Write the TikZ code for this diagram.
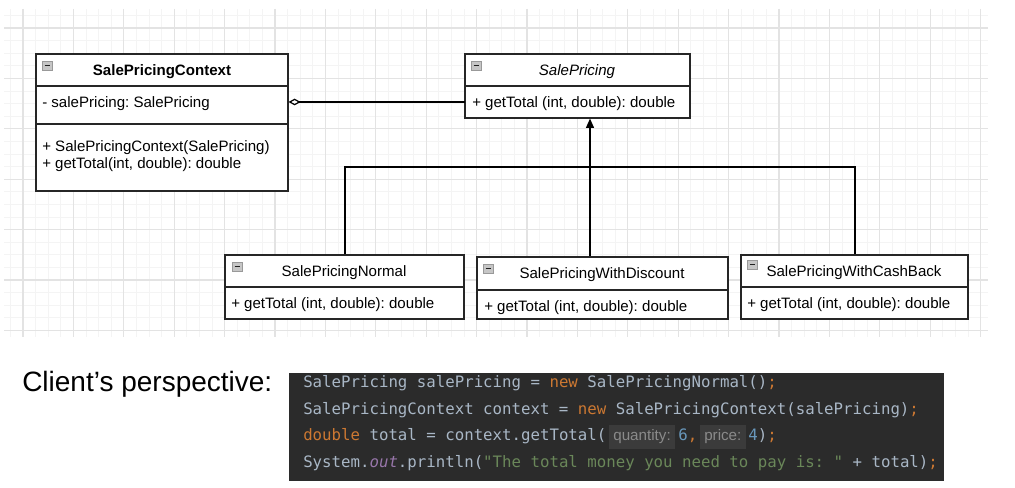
\documentclass[tikz,border=0pt]{standalone}
\usepackage{fontspec}
\setmainfont{Liberation Sans}
\newfontfamily\codefont{DejaVu Sans Mono}
\newfontfamily\hintfont{Liberation Sans}
\usetikzlibrary{arrows.meta,fit,calc}
\definecolor{codebg}{HTML}{2B2B2B}
\definecolor{cplain}{HTML}{A9B7C6}
\definecolor{ckw}{HTML}{CC7832}
\definecolor{cstr}{HTML}{6A8759}
\definecolor{cnum}{HTML}{6897BB}
\definecolor{cpurp}{HTML}{9876AA}
\definecolor{hintbg}{HTML}{3B3B3B}
\definecolor{hintfg}{HTML}{8A8A8A}
\definecolor{gridmajor}{HTML}{E3E3E3}
\definecolor{gridminor}{HTML}{F4F4F4}
\newcommand{\ckw}[1]{\textcolor{ckw}{#1}}
\newcommand{\cnm}[1]{\textcolor{cnum}{#1}}
\newcommand{\cst}[1]{\textcolor{cstr}{#1}}
\newcommand{\cpu}[1]{\textcolor{cpurp}{\itshape #1}}
\newcommand{\inlayhint}[1]{{\setlength{\fboxsep}{3.2pt}\colorbox{hintbg}{\hintfont\fontsize{11.4pt}{12pt}\selectfont\textcolor{hintfg}{\strut #1}}}}
\newcommand{\umlicon}[2]{%
  \draw[icon] (#1,#2) rectangle ++(10,9);
  \draw[gray!25!black, line width=0.8pt] ($(#1,#2)+(2.5,4.5)$) -- ++(5,0);}
\frenchspacing
\begin{document}
\begin{tikzpicture}[x=0.75pt,y=-0.75pt,
  cls/.style={draw=black!85, line width=0.9pt, inner sep=0pt},
  sep/.style={draw=black!85, line width=0.9pt},
  row/.style={inner sep=0pt},
  lbl/.style={font=\fontsize{11.3pt}{13pt}\selectfont, inner sep=0pt, anchor=west},
  ttl/.style={font=\fontsize{11.3pt}{13pt}\selectfont, inner sep=0pt},
  icon/.style={draw=gray!80, fill=gray!45, line width=0.4pt},
  conn/.style={draw=black, line width=0.9pt},
  codeline/.style={font=\codefont\fontsize{11.8pt}{14pt}\selectfont, text=cplain, inner sep=0pt, anchor=west},
  gmin/.style={draw=gridminor, line width=0.6pt},
  gmaj/.style={draw=gridmajor, line width=0.8pt}]
\useasboundingbox (0,0) rectangle (1015,488);
% grid
\foreach \i in {-1,...,76} { \draw[gmin] (23+\i*12.6,9) -- (23+\i*12.6,337); }
\foreach \j in {-1,...,24} { \draw[gmin] (4,28+\j*12.6) -- (988,28+\j*12.6); }
\foreach \i in {0,...,19} { \draw[gmaj] (23+\i*50.4,9) -- (23+\i*50.4,337); }
\foreach \j in {0,...,6} { \draw[gmaj] (4,28+\j*50.4) -- (988,28+\j*50.4); }

% SalePricingContext
\coordinate (ctxA) at (36,54); \coordinate (ctxB) at (288,191);
\node[cls, fit=(ctxA)(ctxB), fill=white] (ctx) {};
\draw[sep] (ctx.west |- 0,86) -- (ctx.east |- 0,86);
\draw[sep] (ctx.west |- 0,124) -- (ctx.east |- 0,124);
\umlicon{42}{61}
\node[ttl, font=\fontsize{11.3pt}{13pt}\selectfont\bfseries] (ctxT) at (162,72) {SalePricingContext};
\node[lbl] (ctxF) at (42,104) {- salePricing: SalePricing};
\node[lbl] (ctxM1) at (42,148) {+ SalePricingContext(SalePricing)};
\node[lbl] (ctxM2) at (42,165) {+ getTotal(int, double): double};

% SalePricing
\coordinate (spA) at (465,54); \coordinate (spB) at (690,118);
\node[cls, fit=(spA)(spB), fill=white] (sp) {};
\coordinate (spmA) at (465,86);
\node[row, fit=(spmA)(spB)] (spm) {};
\draw[sep] (sp.west |- spmA) -- (sp.east |- spmA);
\umlicon{471}{61}
\node[ttl, font=\fontsize{11.3pt}{13pt}\selectfont\itshape] (spT) at (577,72) {SalePricing};
\node[lbl] (spM) at (472,104) {+ getTotal (int, double): double};

% SalePricingNormal
\coordinate (nA) at (225,255); \coordinate (nB) at (464,319);
\node[cls, fit=(nA)(nB), fill=white] (norm) {};
\draw[sep] (norm.west |- 0,287) -- (norm.east |- 0,287);
\umlicon{232}{262}
\node[ttl] (normT) at (344,273) {SalePricingNormal};
\node[lbl] (normM) at (231,305) {+ getTotal (int, double): double};

% SalePricingWithDiscount
\coordinate (dA) at (477,257); \coordinate (dB) at (728,319);
\node[cls, fit=(dA)(dB), fill=white] (disc) {};
\draw[sep] (disc.west |- 0,290) -- (disc.east |- 0,290);
\umlicon{483}{264}
\node[ttl] (discT) at (602,275) {SalePricingWithDiscount};
\node[lbl] (discM) at (484,308) {+ getTotal (int, double): double};

% SalePricingWithCashBack
\coordinate (cA) at (741,255); \coordinate (cB) at (968,319);
\node[cls, fit=(cA)(cB), fill=white] (cash) {};
\draw[sep] (cash.west |- 0,287) -- (cash.east |- 0,287);
\umlicon{747}{260}
\node[ttl] (cashT) at (854,273) {SalePricingWithCashBack};
\node[lbl] (cashM) at (747,305) {+ getTotal (int, double): double};

% connectors
\draw[conn, {Diamond[open,length=9pt,width=5pt]}-] (ctx.east |- spm.west) -- (spm.west);
\coordinate (jx) at (590,167);
\coordinate (busL) at (345,167);
\coordinate (busR) at (855,167);
\draw[conn, -{Triangle[length=7pt,width=6pt]}] (disc.north -| jx) -- (sp.south -| jx);
\draw[conn] (norm.north -| busL) -- (busL) -- (busR) -- (cash.north -| busR);

% client
\node[inner sep=0pt, anchor=west, font=\fontsize{21pt}{24pt}\selectfont] (client) at (22,384) {Client’s perspective:};

% code
\coordinate (kA) at (289,373); \coordinate (kB) at (944,481);
\node[fit=(kA)(kB), inner sep=0pt, fill=codebg] (code) {};
\node[codeline] (l1) at (303,383) {SalePricing salePricing = \ckw{new} SalePricingNormal()\ckw{;}};
\node[codeline] (l2) at (303,410) {SalePricingContext context = \ckw{new} SalePricingContext(salePricing)\ckw{;}};
\node[codeline] (l3) at (303,437) {\ckw{double} total = context.getTotal(\hspace{2pt}\inlayhint{quantity:}\hspace{2.5pt}\cnm{6}\ckw{,}\hspace{2pt}\inlayhint{price:}\hspace{2pt}\cnm{4})\ckw{;}};
\node[codeline] (l4) at (303,463) {System.\cpu{out}.println(\cst{"The total money you need to pay is: "} + total)\ckw{;}};
\end{tikzpicture}
\end{document}
